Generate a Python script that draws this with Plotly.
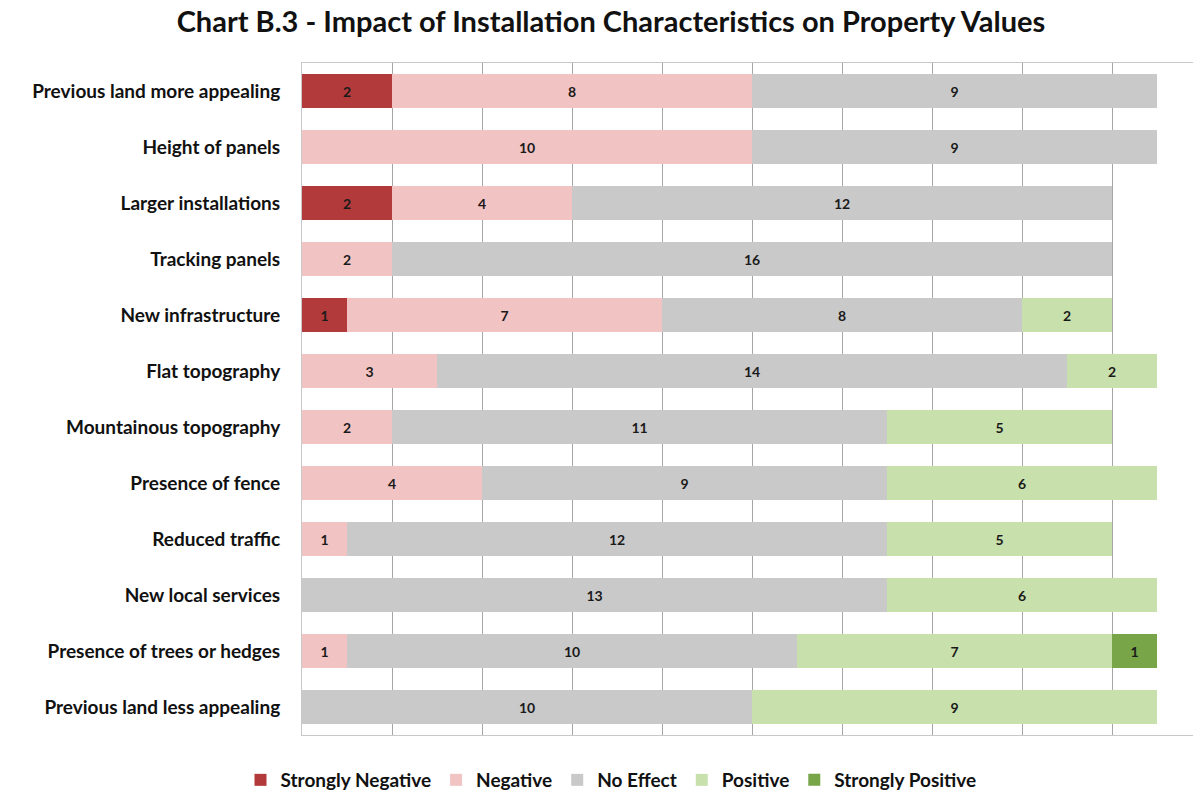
import plotly.graph_objects as go

categories = [
    "Previous land more appealing",
    "Height of panels",
    "Larger installations",
    "Tracking panels",
    "New infrastructure",
    "Flat topography",
    "Mountainous topography",
    "Presence of fence",
    "Reduced traffic",
    "New local services",
    "Presence of trees or hedges",
    "Previous land less appealing",
]

strongly_negative = [2, 0, 2, 0, 1, 0, 0, 0, 0, 0, 0, 0]
negative = [8, 10, 4, 2, 7, 3, 2, 4, 1, 0, 1, 0]
no_effect = [9, 9, 12, 16, 8, 14, 11, 9, 12, 13, 10, 10]
positive = [0, 0, 0, 0, 2, 2, 5, 6, 5, 6, 7, 9]
strongly_positive = [0, 0, 0, 0, 0, 0, 0, 0, 0, 0, 1, 0]

series_names = ["Strongly Negative", "Negative", "No Effect", "Positive", "Strongly Positive"]
series_values = [strongly_negative, negative, no_effect, positive, strongly_positive]
series_colors = ["#B23A3A", "#F2C3C3", "#C9C9C9", "#C8E0AB", "#77A547"]

FONT = "Lato"
W, H = 1193, 793

fig = go.Figure()
for name, vals, col in zip(series_names, series_values, series_colors):
    fig.add_trace(go.Bar(
        y=categories,
        x=vals,
        name=name,
        orientation="h",
        marker=dict(color=col, line=dict(width=0)),
        text=[str(v) if v else "" for v in vals],
        textposition="inside",
        insidetextanchor="middle",
        textangle=0,
        textfont=dict(family=FONT, size=14, color="#1a1a1a", weight="bold"),
        constraintext="none",
    ))

fig.update_layout(
    width=W,
    height=H,
    barmode="stack",
    bargap=0.41,
    plot_bgcolor="white",
    paper_bgcolor="white",
    margin=dict(l=302, r=0, t=63, b=58),
    title=dict(
        text="<b>Chart B.3 - Impact of Installation Characteristics on Property Values</b>",
        font=dict(family=FONT, size=29, color="#111111"),
        x=611 / W, xref="container", xanchor="center",
        y=1 - 22 / H, yref="container", yanchor="middle",
        pad=dict(t=0, b=0),
    ),
    legend=dict(
        orientation="h",
        xref="container", yref="container",
        x=611 / W, xanchor="center",
        y=1 - 780 / H, yanchor="middle",
        font=dict(family=FONT, size=19, color="#111111", weight="bold"),
        traceorder="normal",
        itemwidth=30,
    ),
    uniformtext=dict(mode=False),
)

fig.update_xaxes(
    range=[0, 19.8],
    dtick=2,
    tick0=0,
    showticklabels=False,
    showgrid=True,
    gridcolor="#A6A6A6",
    gridwidth=1,
    zeroline=False,
    showline=True,
    linecolor="#C8C8C8",
    linewidth=1,
    mirror=True,
    fixedrange=True,
)
fig.update_yaxes(
    autorange="reversed",
    showgrid=False,
    showline=True,
    linecolor="#C8C8C8",
    linewidth=1,
    mirror=True,
    ticks="",
    ticklabelstandoff=17,
    tickfont=dict(family=FONT, size=19, color="#111111", weight="bold"),
)

fig.write_html(
    "out.html",
    config={"displayModeBar": False},
    post_script="document.body.style.margin='0';document.body.style.overflow='hidden';",
)
